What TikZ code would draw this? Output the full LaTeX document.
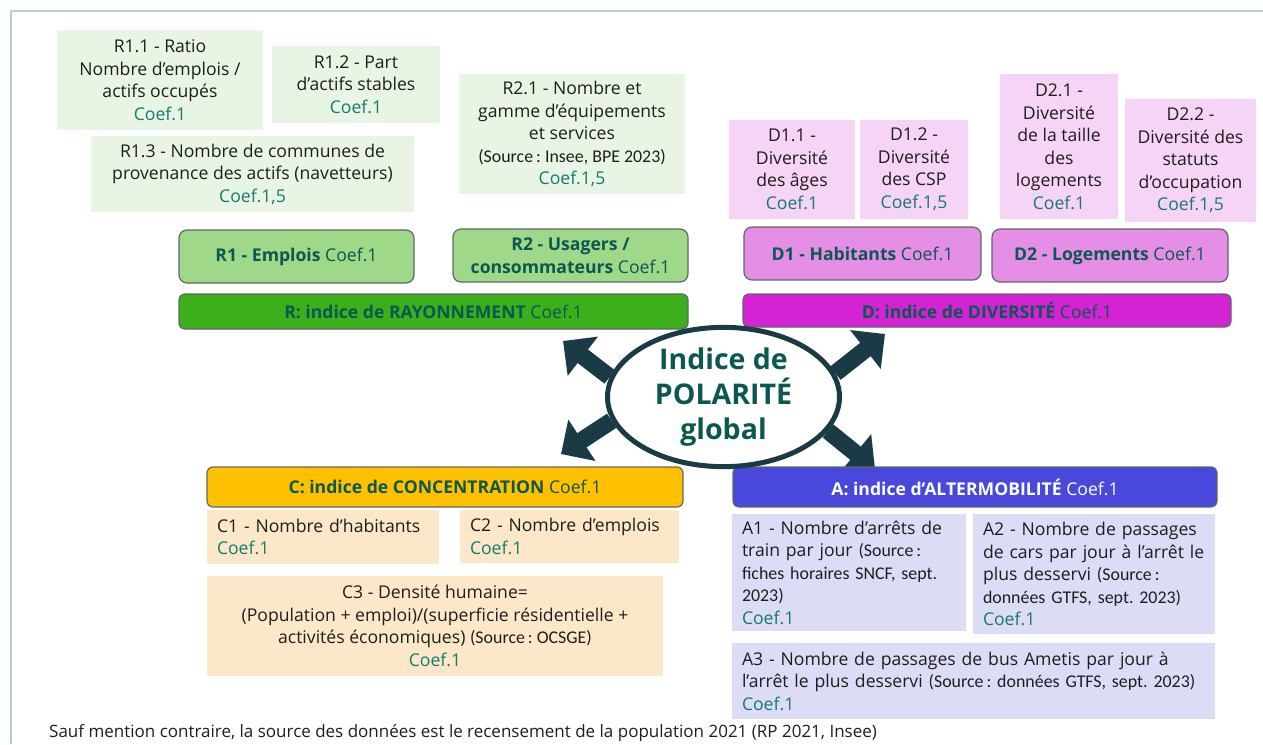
\documentclass[tikz,border=0pt]{standalone}
\usepackage{fontspec}
\setmainfont{Open Sans}
\newfontfamily\calfont{Carlito}
\usetikzlibrary{shapes.geometric,arrows.meta,backgrounds}
\definecolor{framec}{RGB}{168,212,210}
\definecolor{coefc}{RGB}{22,122,110}
\definecolor{headc}{RGB}{10,88,80}
\definecolor{lgreen}{RGB}{233,245,228}
\definecolor{mgreen}{RGB}{159,216,137}
\definecolor{dgreen}{RGB}{60,176,28}
\definecolor{lpink}{RGB}{245,212,245}
\definecolor{mpink}{RGB}{229,142,230}
\definecolor{dpink}{RGB}{212,35,213}
\definecolor{yel}{RGB}{255,192,0}
\definecolor{lorange}{RGB}{253,231,201}
\definecolor{blu}{RGB}{72,72,220}
\definecolor{llav}{RGB}{220,220,246}
\definecolor{arrowc}{RGB}{26,58,70}
\definecolor{txt}{RGB}{30,30,30}
\definecolor{borderc}{RGB}{95,105,100}
\newcommand{\cf}[1]{{\color{coefc}Coef.#1}}
\newcommand{\src}[1]{{\calfont\fontsize{17.9}{22}\selectfont #1}}
\frenchspacing
\begin{document}
\begin{tikzpicture}[x=1pt,y=-1pt,
  base/.style={font=\fontsize{17.6}{22.5}\selectfont, text=txt, inner sep=1pt},
  sz/.style 2 args={minimum width=#1pt, minimum height=#2pt},
  leaf/.style={base, rectangle, align=center},
  leafl/.style={base, rectangle, align=left, inner xsep=10pt},
  mid/.style={base, rectangle, rounded corners=8pt, draw=borderc, line width=1.2pt, align=center, text=headc},
  bar/.style={base, rectangle, rounded corners=6pt, draw=borderc, line width=1.2pt, align=center, text=headc},
  bigarrow/.style={arrowc, line width=17pt, -{Triangle[length=25pt,width=48pt]}},
]
\useasboundingbox (0,0) rectangle (1263,744);
\draw[framec, line width=2pt] (11,744) -- (11,11) -- (1263,11);

% R sub-criteria
\node[leaf, fill=lgreen, sz={206}{100}] (r11) at (160,80) {R1.1 - Ratio\\Nombre d’emplois /\\actifs occupés\\\cf{1}};
\node[leaf, fill=lgreen, sz={168}{77}] (r12) at (356,84.5) {R1.2 - Part\\d’actifs stables\\\cf{1}};
\node[leaf, fill=lgreen, sz={323}{76}] (r13) at (252.5,174) {R1.3 - Nombre de communes de\\provenance des actifs (navetteurs)\\\cf{1,5}};
\node[leaf, fill=lgreen, sz={226}{120}] (r21) at (572,134) {R2.1 - Nombre et\\gamme d’équipements\\et services\\\src{(Source\,: Insee, BPE 2023)}\\\cf{1,5}};

% D sub-criteria
\node[leaf, fill=lpink, sz={126}{99}] (d11) at (792,169.5) {D1.1 -\\Diversité\\des âges\\\cf{1}};
\node[leaf, fill=lpink, sz={108}{99}] (d12) at (914,169.5) {D1.2 -\\Diversité\\des CSP\\\cf{1,5}};
\node[leaf, fill=lpink, sz={118}{145}] (d21) at (1059,146.5) {D2.1 -\\Diversité\\de la taille\\des\\logements\\\cf{1}};
\node[leaf, fill=lpink, sz={131}{123}] (d22) at (1190.5,160.5) {D2.2 -\\Diversité des\\statuts\\d’occupation\\\cf{1,5}};

% middle level
\node[mid, fill=mgreen, sz={235}{53}] (r1) at (296.5,256.5) {\textbf{R1 - Emplois} Coef.1};
\node[mid, fill=mgreen, sz={235}{53}] (r2) at (570.5,255.5) {\textbf{R2 - Usagers /}\\\textbf{consommateurs} Coef.1};
\node[mid, fill=mpink, sz={237}{53}] (d1) at (862.5,253.5) {\textbf{D1 - Habitants} Coef.1};
\node[mid, fill=mpink, sz={236}{53}] (d2) at (1110,255.5) {\textbf{D2 - Logements} Coef.1};

% bars
\node[bar, fill=dgreen, sz={509}{35}] (rbar) at (433.5,311.5) {\textbf{R: indice de RAYONNEMENT} Coef.1};
\node[bar, fill=dpink, sz={488}{33}] (dbar) at (987,310.5) {\textbf{D: indice de DIVERSITÉ} Coef.1};
\node[bar, fill=yel, sz={476}{40}] (cbar) at (445,487) {\textbf{C: indice de CONCENTRATION} Coef.1};
\node[bar, fill=blu, sz={484}{40}, text=white] (abar) at (975,487) {\textbf{A: indice d’ALTERMOBILITÉ} Coef.1};

% central ellipse
\node[ellipse, draw=arrowc, fill=white, line width=5pt, minimum width=232pt, minimum height=122pt,
      align=center, text=headc, font=\fontsize{28.5}{35}\selectfont\bfseries, inner sep=0pt] (pol) at (723.5,397)
      {Indice de\\POLARITÉ\\global};

% arrows
\coordinate (hul) at (563,341);
\coordinate (hur) at (885,334);
\coordinate (hll) at (561,454);
\coordinate (hlr) at (875,469);
\begin{scope}[on background layer]
\draw[bigarrow] (pol.170) -- (hul);
\draw[bigarrow] (pol.12) -- (hur);
\draw[bigarrow] (pol.192) -- (hll);
\draw[bigarrow] (pol.342) -- (hlr);
\end{scope}

% C sub-criteria
\node[leafl, fill=lorange, sz={232}{54}, text width=212pt] (c1) at (323,537) {C1 - Nombre d’habitants\\\cf{1}};
\node[leafl, fill=lorange, sz={219}{53}, text width=199pt] (c2) at (569.5,536.5) {C2 - Nombre d’emplois\\\cf{1}};
\node[leaf, fill=lorange, sz={456}{100}] (c3) at (435,626) {C3 - Densité humaine=\\(Population + emploi)/(superficie résidentielle +\\activités économiques) \src{(Source\,: OCSGE)}\\\cf{1}};

% A sub-criteria
\node[leafl, fill=llav, sz={234}{117}, text width=214pt] (a1) at (849,572.5) {A1 - Nombre d’arrêts de\\train par jour \src{(Source\,:}\\\src{fiches horaires SNCF, sept.}\\\src{2023)}\\\cf{1}};
\node[leafl, fill=llav, sz={242}{120}, text width=222pt] (a2) at (1094,574) {A2 - Nombre de passages\\de cars par jour à l’arrêt le\\plus desservi \src{(Source\,:}\\\src{données GTFS, sept. 2023)}\\\cf{1}};
\node[leafl, fill=llav, sz={483}{76}, text width=463pt] (a3) at (973.5,681) {A3 - Nombre de passages de bus Ametis par jour à\\l’arrêt le plus desservi \src{(Source\,: données GTFS, sept. 2023)}\\\cf{1}};

% footer
\node[base, font=\fontsize{17}{22}\selectfont, anchor=west, inner sep=0pt] (foot) at (49,733) {Sauf mention contraire, la source des données est le recensement de la population 2021 (RP 2021, Insee)};
\end{tikzpicture}
\end{document}
